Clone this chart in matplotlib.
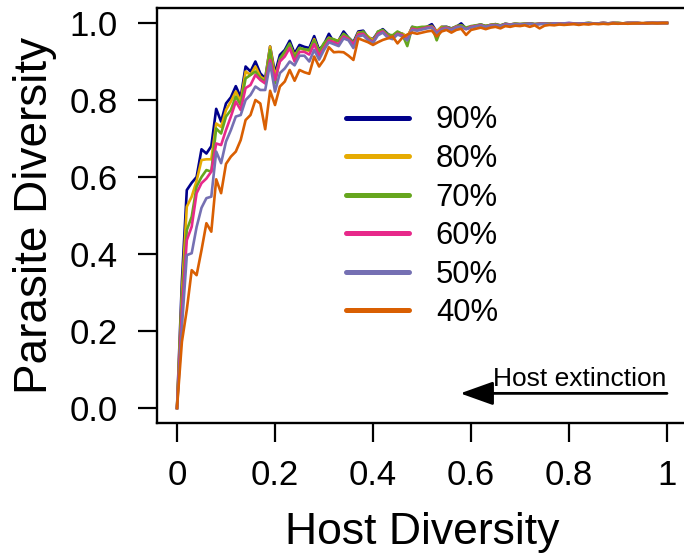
import numpy as np
import matplotlib
matplotlib.use("Agg")
import matplotlib.pyplot as plt

plt.rcParams["font.family"] = ["Liberation Sans", "DejaVu Sans"]

# Host diversity grid (fraction of hosts remaining)
host_diversity = np.round(np.arange(101) / 100, 2)

# Parasite diversity for each host-specificity level
div_90 = [
    0.000, 0.330, 0.566, 0.585, 0.600, 0.672, 0.661, 0.680, 0.777, 0.744,
    0.791, 0.807, 0.836, 0.807, 0.887, 0.874, 0.900, 0.869, 0.856, 0.939,
    0.870, 0.917, 0.930, 0.954, 0.921, 0.943, 0.938, 0.935, 0.966, 0.930,
    0.945, 0.972, 0.950, 0.955, 0.978, 0.962, 0.950, 0.978, 0.980, 0.962,
    0.958, 0.976, 0.984, 0.972, 0.962, 0.976, 0.972, 0.962, 0.990, 0.985,
    0.986, 0.990, 0.997, 0.977, 0.990, 0.990, 0.986, 0.990, 0.999, 0.985,
    0.990, 0.993, 0.996, 0.992, 0.995, 0.997, 0.993, 0.998, 0.996, 0.998,
    0.997, 0.998, 0.999, 0.997, 0.998, 0.999, 0.998, 0.999, 0.998, 0.999,
    1.000, 0.999, 0.998, 0.999, 1.000, 0.999, 0.999, 1.000, 0.999, 1.000,
    1.000, 0.999, 1.000, 1.000, 1.000, 0.999, 1.000, 1.000, 1.000, 1.000,
    1.000,
]
div_80 = [
    0.000, 0.300, 0.523, 0.549, 0.590, 0.644, 0.646, 0.646, 0.739, 0.730,
    0.774, 0.796, 0.822, 0.796, 0.874, 0.865, 0.887, 0.861, 0.852, 0.939,
    0.861, 0.904, 0.920, 0.945, 0.915, 0.935, 0.930, 0.928, 0.958, 0.925,
    0.945, 0.962, 0.955, 0.955, 0.970, 0.960, 0.945, 0.975, 0.975, 0.965,
    0.955, 0.975, 0.980, 0.970, 0.965, 0.975, 0.972, 0.965, 0.988, 0.985,
    0.988, 0.990, 0.992, 0.978, 0.990, 0.988, 0.985, 0.990, 0.994, 0.986,
    0.990, 0.993, 0.995, 0.992, 0.995, 0.996, 0.993, 0.997, 0.996, 0.998,
    0.997, 0.998, 0.998, 0.997, 0.998, 0.999, 0.998, 0.999, 0.998, 0.999,
    0.999, 0.999, 0.998, 0.999, 1.000, 0.999, 0.999, 1.000, 0.999, 1.000,
    1.000, 0.999, 1.000, 1.000, 1.000, 0.999, 1.000, 1.000, 1.000, 1.000,
    1.000,
]
div_70 = [
    0.000, 0.280, 0.462, 0.497, 0.575, 0.600, 0.618, 0.614, 0.726, 0.713,
    0.757, 0.774, 0.809, 0.787, 0.856, 0.865, 0.874, 0.856, 0.848, 0.930,
    0.843, 0.908, 0.926, 0.947, 0.910, 0.935, 0.932, 0.930, 0.955, 0.925,
    0.948, 0.960, 0.958, 0.952, 0.972, 0.962, 0.948, 0.972, 0.978, 0.962,
    0.950, 0.978, 0.982, 0.970, 0.968, 0.978, 0.970, 0.940, 0.990, 0.988,
    0.990, 0.990, 0.992, 0.955, 0.988, 0.990, 0.985, 0.992, 0.994, 0.988,
    0.992, 0.994, 0.996, 0.992, 0.995, 0.997, 0.994, 0.998, 0.996, 0.998,
    0.997, 0.998, 0.999, 0.997, 0.998, 0.999, 0.998, 0.999, 0.998, 0.999,
    0.999, 0.999, 0.998, 0.999, 1.000, 0.999, 0.999, 1.000, 0.999, 1.000,
    1.000, 0.999, 1.000, 1.000, 1.000, 0.999, 1.000, 1.000, 1.000, 1.000,
    1.000,
]
div_60 = [
    0.000, 0.250, 0.436, 0.471, 0.558, 0.584, 0.596, 0.614, 0.687, 0.683,
    0.722, 0.757, 0.796, 0.774, 0.831, 0.839, 0.865, 0.852, 0.843, 0.904,
    0.852, 0.900, 0.913, 0.935, 0.900, 0.925, 0.925, 0.918, 0.945, 0.915,
    0.935, 0.955, 0.950, 0.945, 0.965, 0.958, 0.945, 0.970, 0.972, 0.958,
    0.950, 0.972, 0.978, 0.965, 0.960, 0.972, 0.968, 0.958, 0.985, 0.982,
    0.985, 0.988, 0.990, 0.975, 0.985, 0.988, 0.983, 0.990, 0.990, 0.984,
    0.990, 0.992, 0.994, 0.990, 0.994, 0.995, 0.992, 0.997, 0.995, 0.997,
    0.996, 0.997, 0.998, 0.996, 0.998, 0.998, 0.997, 0.999, 0.998, 0.999,
    0.999, 0.998, 0.998, 0.999, 0.999, 0.999, 0.999, 1.000, 0.999, 1.000,
    0.999, 0.999, 1.000, 1.000, 1.000, 0.999, 1.000, 1.000, 1.000, 1.000,
    1.000,
]
div_50 = [
    0.000, 0.210, 0.397, 0.402, 0.470, 0.520, 0.545, 0.549, 0.666, 0.636,
    0.692, 0.722, 0.757, 0.761, 0.800, 0.813, 0.835, 0.826, 0.826, 0.895,
    0.822, 0.870, 0.882, 0.900, 0.890, 0.915, 0.915, 0.900, 0.930, 0.905,
    0.930, 0.950, 0.945, 0.940, 0.960, 0.955, 0.935, 0.965, 0.968, 0.955,
    0.948, 0.968, 0.975, 0.962, 0.958, 0.970, 0.965, 0.955, 0.982, 0.980,
    0.983, 0.986, 0.988, 0.972, 0.983, 0.986, 0.982, 0.988, 0.990, 0.984,
    0.988, 0.991, 0.993, 0.990, 0.993, 0.994, 0.992, 0.996, 0.995, 0.997,
    0.996, 0.997, 0.998, 0.996, 0.997, 0.998, 0.997, 0.999, 0.998, 0.999,
    0.998, 0.998, 0.998, 0.999, 0.999, 0.999, 0.999, 1.000, 0.999, 1.000,
    0.999, 0.999, 1.000, 1.000, 1.000, 0.999, 1.000, 1.000, 1.000, 1.000,
    1.000,
]
div_40 = [
    0.000, 0.172, 0.255, 0.358, 0.345, 0.410, 0.480, 0.458, 0.594, 0.558,
    0.634, 0.653, 0.666, 0.696, 0.748, 0.761, 0.800, 0.791, 0.724, 0.824,
    0.787, 0.835, 0.848, 0.878, 0.850, 0.878, 0.872, 0.868, 0.913, 0.887,
    0.905, 0.937, 0.924, 0.925, 0.924, 0.915, 0.904, 0.960, 0.955, 0.950,
    0.943, 0.950, 0.956, 0.960, 0.965, 0.947, 0.962, 0.970, 0.975, 0.972,
    0.975, 0.978, 0.980, 0.965, 0.978, 0.982, 0.975, 0.982, 0.985, 0.969,
    0.982, 0.985, 0.988, 0.984, 0.988, 0.990, 0.986, 0.992, 0.990, 0.993,
    0.992, 0.994, 0.990, 0.994, 0.986, 0.993, 0.995, 0.994, 0.996, 0.995,
    0.996, 0.997, 0.995, 0.997, 0.996, 0.998, 0.997, 0.998, 0.997, 0.999,
    0.998, 0.999, 0.998, 0.999, 0.999, 1.000, 0.999, 1.000, 0.999, 1.000,
    1.000,
]

series_labels = ["90%", "80%", "70%", "60%", "50%", "40%"]
series_values = [div_90, div_80, div_70, div_60, div_50, div_40]
series_colors = ["#00008B", "#E6AB02", "#66A61E", "#E7298A", "#7570B3", "#D95F02"]

x_ticks = [0, 0.2, 0.4, 0.6, 0.8, 1.0]
x_tick_labels = ["0", "0.2", "0.4", "0.6", "0.8", "1"]
y_ticks = [0.0, 0.2, 0.4, 0.6, 0.8, 1.0]
y_tick_labels = ["0.0", "0.2", "0.4", "0.6", "0.8", "1.0"]

W, H = 684, 558
fig = plt.figure(figsize=(W / 100, H / 100), dpi=100)
# plot region in pixels (left, top, right, bottom)
L, T, R, B = 157.4, 7.6, 686.6, 423.4
ax = fig.add_axes([L / W, (H - B) / H, (R - L) / W, (B - T) / H])

for lab, vals, col in zip(series_labels, series_values, series_colors):
    ax.plot(host_diversity, vals, color=col, lw=1.9, label=lab,
            solid_joinstyle="round")

ax.set_xlim(-0.04, 1.04)
ax.set_ylim(-0.04, 1.04)
ax.set_xticks(x_ticks)
ax.set_xticklabels(x_tick_labels)
ax.set_yticks(y_ticks)
ax.set_yticklabels(y_tick_labels)
ax.tick_params(axis="both", direction="out", length=13.7, width=1.6,
               labelsize=25, colors="black")
ax.tick_params(axis="y", pad=15)
ax.tick_params(axis="x", pad=12)
for sp in ax.spines.values():
    sp.set_linewidth(1.7)

ax.set_xlabel("Host Diversity", fontsize=32)
ax.set_ylabel("Parasite Diversity", fontsize=33)
ax.xaxis.set_label_coords(0.5, -0.212)
ax.yaxis.set_label_coords(-0.19, 0.5)

leg = ax.legend(loc="upper left", bbox_to_anchor=(346 / W, 1 - 105.5 / H),
                bbox_transform=fig.transFigure, frameon=False, fontsize=22.3,
                handlelength=2.05, handletextpad=0.85, labelspacing=0.275,
                borderpad=0, borderaxespad=0)
for h in leg.get_lines():
    h.set_linewidth(3.6)
    h.set_solid_capstyle("round")

# direction of host loss
ax.annotate("", xy=(0.578, 0.038), xytext=(1.0, 0.038),
            arrowprops=dict(arrowstyle="-|>,head_length=0.7,head_width=0.25",
                            mutation_scale=29, lw=2, color="black",
                            shrinkA=0, shrinkB=0))
ax.text(0.644, 0.057, "Host extinction", fontsize=19, ha="left", va="baseline")

fig.savefig("out.png", dpi=100)
